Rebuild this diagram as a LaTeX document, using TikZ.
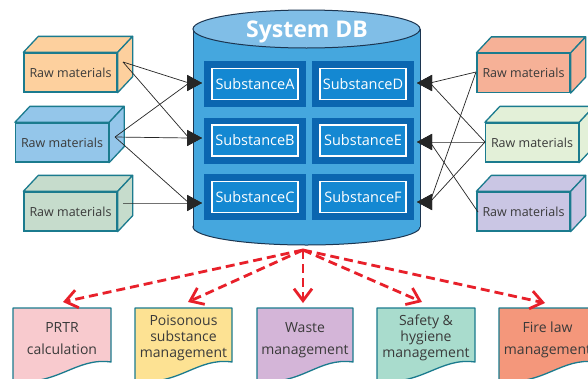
\documentclass[tikz,border=0pt]{standalone}
\usepackage{fontspec}
\setmainfont{Open Sans}
\usetikzlibrary{arrows.meta}
\definecolor{edgeteal}{HTML}{1B7B8E}
\definecolor{cylbody}{HTML}{45A7DE}
\definecolor{cyltopc}{HTML}{80BEE7}
\definecolor{cylline}{HTML}{1C3550}
\definecolor{subout}{HTML}{0B66B0}
\definecolor{subin}{HTML}{1488D2}
\definecolor{txtgray}{HTML}{3A3A3A}
\definecolor{redarr}{HTML}{E8202A}
\definecolor{cL1}{HTML}{FDD09E}
\definecolor{cL2}{HTML}{94C6EA}
\definecolor{cL3}{HTML}{C6DCCC}
\definecolor{cR1}{HTML}{F6B197}
\definecolor{cR2}{HTML}{E3F0D8}
\definecolor{cR3}{HTML}{CAC6E4}
\definecolor{cD1}{HTML}{F8CACE}
\definecolor{cD2}{HTML}{FDE293}
\definecolor{cD3}{HTML}{D4B5D8}
\definecolor{cD4}{HTML}{A9DCCD}
\definecolor{cD5}{HTML}{F4977B}
\tikzset{
  rawfront/.style={draw=edgeteal, line width=1.3pt, minimum width=93pt, minimum height=39pt,
    inner sep=0pt, text=txtgray, font=\fontsize{12.5}{14}\selectfont},
  rawface/.style={draw=edgeteal, line width=1.3pt, line join=round},
  subouter/.style={fill=subout, draw=none, minimum width=102pt, minimum height=46pt, inner sep=0pt},
  subinner/.style={fill=subin, draw=white, line width=1.2pt, minimum width=86pt, minimum height=31pt,
    inner sep=0pt, text=white, font=\fontsize{14.5}{16}\selectfont},
  feed/.style={draw=black!85, line width=0.7pt, -{Triangle[length=15pt,width=16pt]}},
  outflow/.style={draw=redarr, line width=2.8pt, dash pattern=on 9pt off 5pt,
    -{Straight Barb[length=12pt,width=18pt,line width=2.8pt]}},
  docshape/.style={draw=edgeteal, line width=1.3pt, line join=round},
  doctwo/.style={anchor=base, align=center, text=txtgray, font=\fontsize{14}{22}\selectfont, inner sep=0pt},
  docthree/.style={anchor=base, align=center, text=txtgray, font=\fontsize{14}{16}\selectfont, inner sep=0pt},
}
\begin{document}
\begin{tikzpicture}[x=1pt,y=-1pt]
\useasboundingbox (0,0) rectangle (588,378);
\clip (0,0) rectangle (588,378);
\fill[white] (0,0) rectangle (588,378);

% cylinder
\fill[cylbody] (306.5,227) ellipse [x radius=113.5pt, y radius=18pt];
\draw[cylline, line width=1pt] (306.5,227) ellipse [x radius=113.5pt, y radius=18pt];
\fill[cylbody] (193,29) rectangle (420,227);
\draw[cylline, line width=1pt] (193,29) -- (193,227) (420,29) -- (420,227);
\filldraw[fill=cyltopc, draw=cylline, line width=1pt] (306.5,29) ellipse [x radius=113.5pt, y radius=19pt];
\node[anchor=base, text=white, font=\fontsize{23}{26}\selectfont\bfseries, inner sep=0pt] (db) at (307,37) {System DB};

% substances
\foreach \n/\x/\y in {A/255/84, B/255/140.5, C/255/197, D/363/84, E/363/140.5, F/363/197}{
  \node[subouter] (o\n) at (\x,\y) {};
  \node[subinner] (s\n) at (\x,\y) {Substance\n};
}

% raw material boxes
\foreach \n/\x/\y/\c in {L1/70.5/72.5/cL1, L2/62/142.5/cL2, L3/70.5/211.5/cL3, R1/523.5/73/cR1, R2/532/142.5/cR2, R3/523.5/211.5/cR3}{
  \node[rawfront, fill=\c] (\n) at (\x,\y) {Raw materials};
  \filldraw[rawface, fill=\c] (\n.north west) -- ++(15,-16) -- ([shift={(15,-16)}]\n.north east) -- (\n.north east) -- cycle;
  \filldraw[rawface, fill=\c] (\n.north east) -- ++(15,-16) -- ([shift={(15,-16)}]\n.south east) -- (\n.south east) -- cycle;
}

% connector anchors
\coordinate (pL1) at (123,62);
\coordinate (pL2) at (115,137);
\coordinate (pL3) at (123,203);
\coordinate (pR1) at (476,72);
\coordinate (pR2) at (485,142);
\coordinate (pR3) at (478,212);
\coordinate (tA) at (202,83);
\coordinate (tB) at (202,138);
\coordinate (tC) at (202,203);
\coordinate (tD) at (417,83);
\coordinate (tE) at (417,142);
\coordinate (tF) at (417,202);
\coordinate (bA) at (189,83);
\coordinate (bB) at (189,138);
\coordinate (bC) at (189,203);
\coordinate (bD) at (430,83);
\coordinate (bE) at (430,142);
\coordinate (bF) at (430,202);

\draw[feed] (pL1) -- (bA) -- (tA);
\draw[feed] (pL1) -- (bB) -- (tB);
\draw[feed] (pL2) -- (bA) -- (tA);
\draw[feed] (pL2) -- (bB) -- (tB);
\draw[feed] (pL2) -- (bC) -- (tC);
\draw[feed] (pL3) -- (bC) -- (tC);
\draw[feed] (pR1) -- (bD) -- (tD);
\draw[feed] (pR1) -- (bF) -- (tF);
\draw[feed] (pR2) -- (bD) -- (tD);
\draw[feed] (pR2) -- (bE) -- (tE);
\draw[feed] (pR2) -- (bF) -- (tF);
\draw[feed] (pR3) -- (bE) -- (tE);

% documents
\foreach \n/\a/\b/\c in {d1/13/111/cD1, d2/135/232/cD2, d3/257/353/cD3, d4/377/475/cD4, d5/499/596/cD5}{
  \filldraw[docshape, fill=\c] (\a,308) -- (\b,308) -- (\b,362) .. controls ({\b-35},357) and ({\a+45},386) .. (\a,381) -- cycle;
}
\node[doctwo] (t1) at (62,354) {PRTR\\calculation};
\node[docthree] (t2) at (183.5,357) {Poisonous\\substance\\management};
\node[doctwo] (t3) at (305,354) {Waste\\management};
\node[docthree] (t4) at (426,357) {Safety \&\\hygiene\\management};
\node[doctwo] (t5) at (547.5,354) {Fire law\\management};

% outputs
\coordinate (src) at (303,250);
\coordinate (e1) at (63,302);
\coordinate (e2) at (188,302);
\coordinate (e3) at (303,303);
\coordinate (e4) at (422,302);
\coordinate (e5) at (545,303);
\draw[outflow] (src) -- (e1);
\draw[outflow] (src) -- (e2);
\draw[outflow] (src) -- (e3);
\draw[outflow] (src) -- (e4);
\draw[outflow] (src) -- (e5);
\end{tikzpicture}
\end{document}
